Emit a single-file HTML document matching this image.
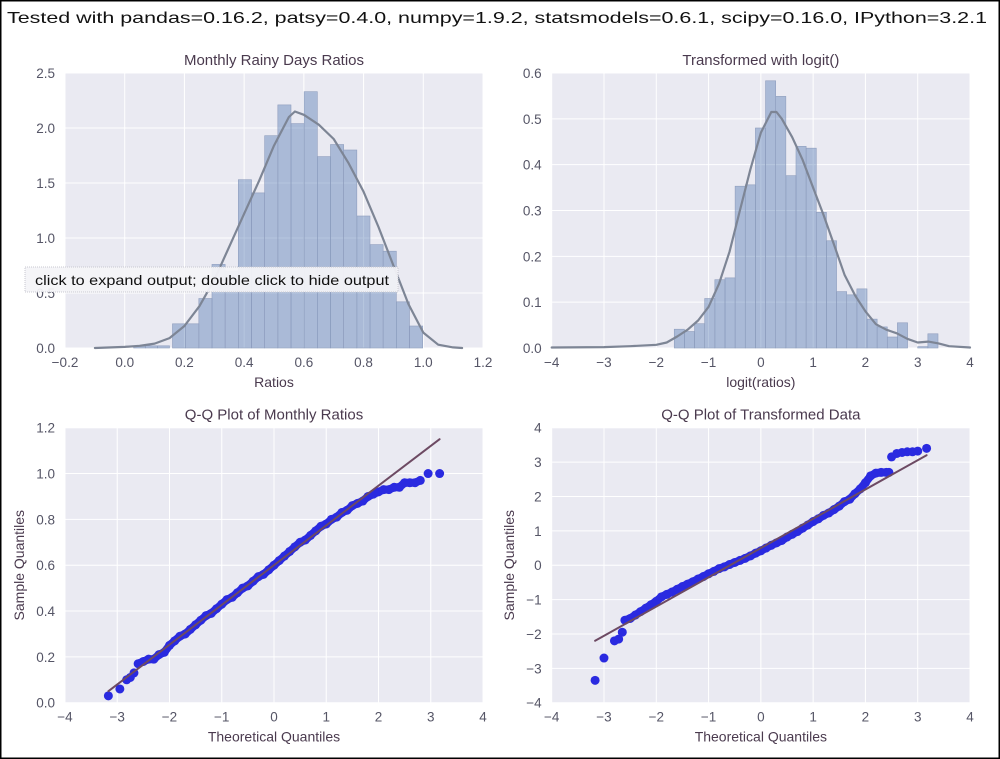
<!DOCTYPE html>
<html><head><meta charset="utf-8">
<style>
html,body{margin:0;padding:0;background:#fff;}
svg{display:block;font-family:"Liberation Sans","DejaVu Sans",sans-serif;}
.tick{font-size:13.5px;fill:#555566;}
.ttl{font-size:15px;fill:#4a3a4e;}
.axl{font-size:14px;fill:#4a3a4e;}
</style></head>
<body>
<svg id="fig" width="1000" height="759" viewBox="0 0 1000 759">
<rect x="0.5" y="0.5" width="999" height="758" fill="#fff" stroke="#000" stroke-width="2"/>
<text x="7" y="23" font-size="16" fill="#111" textLength="980" lengthAdjust="spacingAndGlyphs">Tested with pandas=0.16.2, patsy=0.4.0, numpy=1.9.2, statsmodels=0.6.1, scipy=0.16.0, IPython=3.2.1</text>
<g id="plots"></g>
<g>
<rect x="25" y="267" width="373" height="25" fill="#f4f4f7" fill-opacity="0.93" stroke="#c8c8d0" stroke-dasharray="1,1"/>
<text x="35" y="285" font-size="14" fill="#111" textLength="354" lengthAdjust="spacingAndGlyphs">click to expand output; double click to hide output</text>
</g>
</svg>
<script>
// ---- Panel 1: Monthly Rainy Days Ratios (histogram + KDE)
const ratioBinStart = 0.16;
const ratioBinWidth = 0.0441;
const ratioBinHeights = [0.22,0.22,0.45,0.76,0.70,1.53,1.41,1.93,2.21,2.04,2.33,1.74,1.85,1.80,1.20,0.94,0.88,0.42,0.20];
const ratioTinyBinsX = [0.03,0.07,0.11];
const ratioTinyBinsH = [0.015,0.02,0.02];
const ratioKdeX = [-0.1,0.0,0.05,0.1,0.15,0.2,0.25,0.3,0.35,0.4,0.45,0.5,0.55,0.57,0.6,0.65,0.7,0.75,0.8,0.85,0.9,0.95,1.0,1.05,1.1,1.13];
const ratioKdeY = [0.0,0.01,0.02,0.04,0.09,0.2,0.38,0.62,0.92,1.22,1.52,1.84,2.1,2.15,2.12,2.03,1.9,1.68,1.42,1.1,0.75,0.4,0.14,0.03,0.005,0.0];
const ratioXTicks = [-0.2,0.0,0.2,0.4,0.6,0.8,1.0,1.2];
const ratioXTickLabels = ["\u22120.2","0.0","0.2","0.4","0.6","0.8","1.0","1.2"];
const ratioYTicks = [0,0.5,1.0,1.5,2.0,2.5];
const ratioYTickLabels = ["0.0","0.5","1.0","1.5","2.0","2.5"];

// ---- Panel 2: logit histogram + KDE
const logitBinStart = -1.656;
const logitBinWidth = 0.194;
const logitBinHeights = [0.041,0.036,0.053,0.108,0.149,0.153,0.353,0.356,0.48,0.583,0.549,0.376,0.44,0.436,0.296,0.234,0.123,0.116,0.129,0.063,0.046,0.024,0.055,0.0,0.003,0.031];
const logitKdeX = [-4,-3,-2.5,-2,-1.8,-1.6,-1.4,-1.2,-1.0,-0.8,-0.6,-0.4,-0.2,0,0.2,0.3,0.4,0.6,0.8,1.0,1.2,1.4,1.6,1.8,2.0,2.2,2.4,2.6,2.8,3.0,3.2,3.4,3.6,4];
const logitKdeY = [0.001,0.002,0.004,0.007,0.012,0.025,0.04,0.06,0.09,0.14,0.21,0.3,0.39,0.47,0.515,0.515,0.5,0.46,0.41,0.35,0.29,0.225,0.16,0.115,0.08,0.052,0.04,0.032,0.02,0.012,0.014,0.01,0.004,0.001];
const logitXTicks = [-4,-3,-2,-1,0,1,2,3,4];
const logitXTickLabels = ["\u22124","\u22123","\u22122","\u22121","0","1","2","3","4"];
const logitYTicks = [0,0.1,0.2,0.3,0.4,0.5,0.6];
const logitYTickLabels = ["0.0","0.1","0.2","0.3","0.4","0.5","0.6"];

// ---- Panel 3: Q-Q ratios
const qq1Theo = [-3.17,-2.95,-2.82,-2.75,-2.68,-2.6,-2.5,-2.4,-2.3,-2.2,-2.1,-2.0,-1.9,-1.8,-1.7,-1.6,-1.5,-1.4,-1.3,-1.2,-1.1,-1.0,-0.9,-0.8,-0.7,-0.6,-0.5,-0.4,-0.3,-0.2,-0.1,0.0,0.1,0.2,0.3,0.4,0.5,0.6,0.7,0.8,0.9,1.0,1.1,1.2,1.3,1.4,1.5,1.6,1.7,1.8,1.9,2.0,2.1,2.2,2.3,2.4,2.5,2.6,2.7,2.8,2.95,3.17];
const qq1Sample = [0.03,0.06,0.1,0.11,0.13,0.17,0.18,0.19,0.19,0.21,0.22,0.25,0.27,0.29,0.3,0.32,0.34,0.36,0.38,0.39,0.41,0.43,0.45,0.46,0.48,0.5,0.51,0.53,0.55,0.56,0.58,0.6,0.62,0.64,0.66,0.68,0.7,0.71,0.73,0.75,0.77,0.78,0.8,0.81,0.83,0.84,0.86,0.87,0.88,0.9,0.91,0.92,0.93,0.93,0.94,0.94,0.96,0.96,0.96,0.97,1.0,1.0];
const qq1LineX = [-3.17,3.17];
const qq1LineY = [0.05,1.15];
const qq1XTicks = [-4,-3,-2,-1,0,1,2,3,4];
const qq1XTickLabels = ["\u22124","\u22123","\u22122","\u22121","0","1","2","3","4"];
const qq1YTicks = [0,0.2,0.4,0.6,0.8,1.0,1.2];
const qq1YTickLabels = ["0.0","0.2","0.4","0.6","0.8","1.0","1.2"];

// ---- Panel 4: Q-Q transformed
const qq2Theo = [-3.17,-3.0,-2.8,-2.72,-2.65,-2.6,-2.5,-2.4,-2.3,-2.2,-2.1,-2.0,-1.9,-1.8,-1.7,-1.6,-1.5,-1.4,-1.3,-1.2,-1.1,-1.0,-0.9,-0.8,-0.7,-0.6,-0.5,-0.4,-0.3,-0.2,-0.1,0.0,0.1,0.2,0.3,0.4,0.5,0.6,0.7,0.8,0.9,1.0,1.1,1.2,1.3,1.4,1.5,1.6,1.7,1.8,1.9,2.0,2.1,2.2,2.3,2.4,2.45,2.5,2.6,2.7,2.8,2.9,3.0,3.17];
const qq2Sample = [-3.35,-2.7,-2.2,-2.15,-1.95,-1.6,-1.55,-1.45,-1.35,-1.25,-1.15,-1.05,-0.92,-0.85,-0.78,-0.7,-0.62,-0.55,-0.48,-0.4,-0.33,-0.25,-0.18,-0.1,-0.05,0.02,0.08,0.14,0.2,0.27,0.35,0.42,0.5,0.58,0.65,0.72,0.82,0.9,0.98,1.08,1.17,1.27,1.35,1.45,1.52,1.62,1.72,1.85,1.92,2.08,2.22,2.4,2.6,2.68,2.7,2.7,2.7,3.15,3.25,3.28,3.3,3.3,3.32,3.4];
const qq2LineX = [-3.17,3.17];
const qq2LineY = [-2.2,3.2];
const qq2XTicks = [-4,-3,-2,-1,0,1,2,3,4];
const qq2XTickLabels = ["\u22124","\u22123","\u22122","\u22121","0","1","2","3","4"];
const qq2YTicks = [-4,-3,-2,-1,0,1,2,3,4];
const qq2YTickLabels = ["\u22124","\u22123","\u22122","\u22121","0","1","2","3","4"];

const NS = "http://www.w3.org/2000/svg";
const root = document.getElementById('plots');
function mk(tag, attrs, parent){
  const e = document.createElementNS(NS, tag);
  for (const k in attrs) e.setAttribute(k, attrs[k]);
  (parent||root).appendChild(e);
  return e;
}
function panel(cfg){
  const g = mk('g', {});
  
  
  const sx = v => cfg.x0 + (v - cfg.xmin) / (cfg.xmax - cfg.xmin) * (cfg.x1 - cfg.x0);
  const sy = v => cfg.y1 - (v - cfg.ymin) / (cfg.ymax - cfg.ymin) * (cfg.y1 - cfg.y0);
  const bg = mk('rect', {x:cfg.x0, y:cfg.y0, width:cfg.x1-cfg.x0, height:cfg.y1-cfg.y0, fill:'#eaeaf2'}, g);
  
  
  cfg.xt.forEach((t,i)=>{
    const l = mk('line', {x1:sx(t), x2:sx(t), y1:cfg.y0, y2:cfg.y1, stroke:'#fff', 'stroke-width':1}, g);
    
    
    const tx = mk('text', {x:sx(t), y:cfg.y1+19, 'text-anchor':'middle', class:'tick'}, g);
    tx.textContent = cfg.xl[i];
    
    
  });
  cfg.yt.forEach((t,i)=>{
    const l = mk('line', {x1:cfg.x0, x2:cfg.x1, y1:sy(t), y2:sy(t), stroke:'#fff', 'stroke-width':1}, g);
    
    
    const tx = mk('text', {x:cfg.x0-10, y:sy(t)+5, 'text-anchor':'end', class:'tick'}, g);
    tx.textContent = cfg.yl[i];
    
    
  });
  const tt = mk('text', {x:(cfg.x0+cfg.x1)/2, y:cfg.y0-8, 'text-anchor':'middle', class:'ttl'}, g);
  tt.textContent = cfg.title;
  
  
  const xa = mk('text', {x:(cfg.x0+cfg.x1)/2, y:cfg.y1+39, 'text-anchor':'middle', class:'axl'}, g);
  xa.textContent = cfg.xlabel;
  
  
  if (cfg.ylabel){
    const cy = (cfg.y0+cfg.y1)/2;
    const ya = mk('text', {x:cfg.ylx, y:cy, 'text-anchor':'middle', class:'axl', transform:`rotate(-90 ${cfg.ylx} ${cy})`}, g);
    ya.textContent = cfg.ylabel;
    
    
  }
  return {g, sx, sy};
}
function hist(p, start, w, heights){
  heights.forEach((h,i)=>{
    if (h <= 0) return;
    const a = start + i*w, b = a + w;
    const r = mk('rect', {x:p.sx(a), y:p.sy(h), width:p.sx(b)-p.sx(a), height:p.sy(0)-p.sy(h), fill:'#4c72b0', 'fill-opacity':0.4, stroke:'#8e9dbd', 'stroke-width':0.6}, p.g);
    
    
  });
}
function line(p, xs, ys, color, w, name){
  const d = xs.map((x,i)=>(i?'L':'M')+p.sx(x).toFixed(1)+' '+p.sy(ys[i]).toFixed(1)).join(' ');
  const pa = mk('path', {d, fill:'none', stroke:color, 'stroke-width':w, 'stroke-linejoin':'round', 'stroke-linecap':'round'}, p.g);
  
  
}
function dots(p, xs, ys, bandFrom, bandTo){
  // dense band connecting the central run of points (overlapping markers)
  line(p, xs.slice(bandFrom, bandTo), ys.slice(bandFrom, bandTo), '#2a2ae0', 8, 'qq-point-band');
  xs.forEach((x,i)=>{
    const c = mk('circle', {cx:p.sx(x), cy:p.sy(ys[i]), r:4.5, fill:'#2a2ae0'}, p.g);
    
    
  });
}

const p1 = panel({name:'ratios-histogram', x0:65, x1:483, y0:73, y1:348, xmin:-0.2, xmax:1.2, ymin:0, ymax:2.5,
  xt:ratioXTicks, xl:ratioXTickLabels, yt:ratioYTicks, yl:ratioYTickLabels, title:'Monthly Rainy Days Ratios', xlabel:'Ratios'});
hist(p1, ratioBinStart, ratioBinWidth, ratioBinHeights);
ratioTinyBinsX.forEach((x,i)=>hist(p1, x, 0.04, [ratioTinyBinsH[i]]));
line(p1, ratioKdeX, ratioKdeY, '#7d8595', 2.2, 'kde-curve');

const p2 = panel({name:'logit-histogram', x0:551.7, x1:970, y0:73, y1:348, xmin:-4, xmax:4, ymin:0, ymax:0.6,
  xt:logitXTicks, xl:logitXTickLabels, yt:logitYTicks, yl:logitYTickLabels, title:'Transformed with logit()', xlabel:'logit(ratios)'});
hist(p2, logitBinStart, logitBinWidth, logitBinHeights);
line(p2, logitKdeX, logitKdeY, '#7d8595', 2.2, 'kde-curve');

const p3 = panel({name:'qq-ratios', x0:65, x1:483, y0:427.7, y1:702.7, xmin:-4, xmax:4, ymin:0, ymax:1.2,
  xt:qq1XTicks, xl:qq1XTickLabels, yt:qq1YTicks, yl:qq1YTickLabels, title:'Q-Q Plot of Monthly Ratios', xlabel:'Theoretical Quantiles', ylabel:'Sample Quantiles', ylx:24});
dots(p3, qq1Theo, qq1Sample, 5, 60);
line(p3, qq1LineX, qq1LineY, '#6d4a63', 2, 'qq-reference-line');

const p4 = panel({name:'qq-transformed', x0:551.7, x1:970, y0:427.7, y1:702.7, xmin:-4, xmax:4, ymin:-4, ymax:4,
  xt:qq2XTicks, xl:qq2XTickLabels, yt:qq2YTicks, yl:qq2YTickLabels, title:'Q-Q Plot of Transformed Data', xlabel:'Theoretical Quantiles', ylabel:'Sample Quantiles', ylx:514});
dots(p4, qq2Theo, qq2Sample, 5, 57);
line(p4, qq2LineX, qq2LineY, '#6d4a63', 2, 'qq-reference-line');
</script>
</body></html>
